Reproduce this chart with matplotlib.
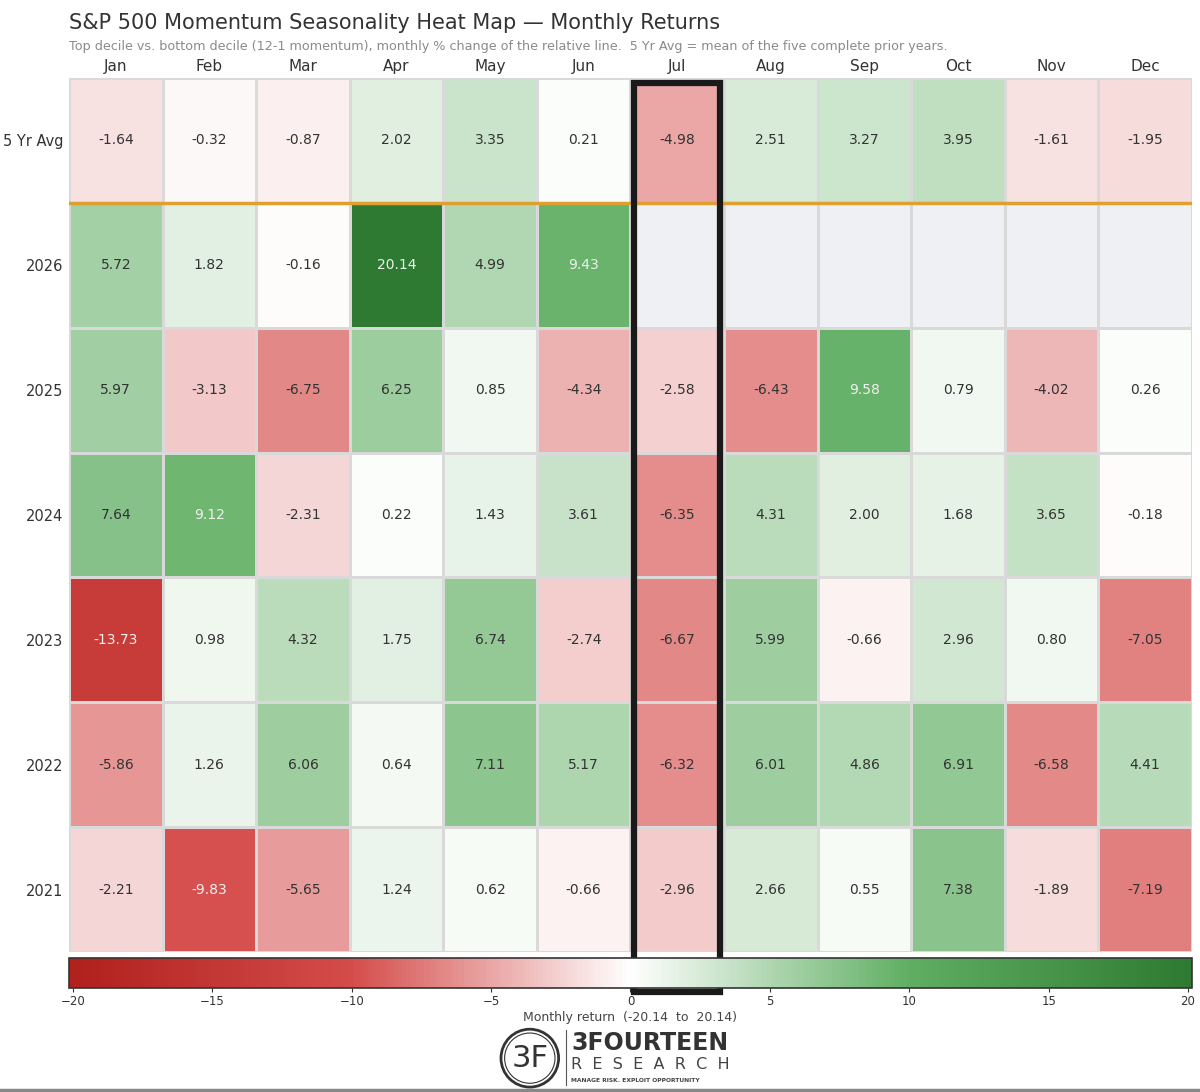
import numpy as np
import matplotlib
matplotlib.use("Agg")
import matplotlib.pyplot as plt
from matplotlib.colors import LinearSegmentedColormap, Normalize
from matplotlib.patches import Rectangle, Ellipse
from matplotlib.lines import Line2D

months = ["Jan", "Feb", "Mar", "Apr", "May", "Jun",
          "Jul", "Aug", "Sep", "Oct", "Nov", "Dec"]
rows = ["5 Yr Avg", "2026", "2025", "2024", "2023", "2022", "2021"]

avg5 = [-1.64, -0.32, -0.87, 2.02, 3.35, 0.21, -4.98, 2.51, 3.27, 3.95, -1.61, -1.95]
y2026 = [5.72, 1.82, -0.16, 20.14, 4.99, 9.43] + [np.nan] * 6
y2025 = [5.97, -3.13, -6.75, 6.25, 0.85, -4.34, -2.58, -6.43, 9.58, 0.79, -4.02, 0.26]
y2024 = [7.64, 9.12, -2.31, 0.22, 1.43, 3.61, -6.35, 4.31, 2.00, 1.68, 3.65, -0.18]
y2023 = [-13.73, 0.98, 4.32, 1.75, 6.74, -2.74, -6.67, 5.99, -0.66, 2.96, 0.80, -7.05]
y2022 = [-5.86, 1.26, 6.06, 0.64, 7.11, 5.17, -6.32, 6.01, 4.86, 6.91, -6.58, 4.41]
y2021 = [-2.21, -9.83, -5.65, 1.24, 0.62, -0.66, -2.96, 2.66, 0.55, 7.38, -1.89, -7.19]

data = np.array([avg5, y2026, y2025, y2024, y2023, y2022, y2021], dtype=float)
vlim = np.nanmax(np.abs(data))

cmap = LinearSegmentedColormap.from_list(
    "rg", [(0.0, "#b0201c"), (0.25, "#d44c4a"), (0.5, "#ffffff"),
           (0.75, "#5fae62"), (1.0, "#2e7a32")])
cmap.set_bad("#eef0f3")
norm = Normalize(-vlim, vlim)

fig = plt.figure(figsize=(12, 10.92), dpi=100)
ax = fig.add_axes([0.0575, 0.1282, 0.9358, 0.8004])

mesh = ax.pcolormesh(np.ma.masked_invalid(data), cmap=cmap, norm=norm,
                     edgecolors="#d9d9d9", linewidth=1.0)
ax.set_xlim(0, 12)
ax.set_ylim(7, 0)
for s in ax.spines.values():
    s.set_visible(False)

ax.xaxis.tick_top()
ax.set_xticks(np.arange(12) + 0.5)
ax.set_xticklabels(months, fontsize=11, color="#333333")
ax.set_yticks(np.arange(7) + 0.5)
ax.set_yticklabels(rows, fontsize=10.5, color="#333333")
ax.tick_params(axis="x", length=0, pad=3)
ax.tick_params(axis="y", length=0, pad=4)

for i in range(data.shape[0]):
    for j in range(data.shape[1]):
        v = data[i, j]
        if np.isnan(v):
            continue
        col = "#f0f0ee" if abs(v) > 8 else "#333333"
        ax.text(j + 0.5, i + 0.5, f"{v:.2f}", ha="center", va="center",
                fontsize=10, color=col)

# separator under the average row
ax.axhline(1, color="#e0a030", lw=2.5)

# highlight box around July
jul = months.index("Jul")
ax.add_patch(Rectangle((jul + 0.04, 0.04), 0.92, 7.28, fill=False,
                       ec="#1a1a1a", lw=4.5, clip_on=False, zorder=10))

cax = fig.add_axes([0.0575, 0.0952, 0.9358, 0.0275])
cb = fig.colorbar(mesh, cax=cax, orientation="horizontal",
                  ticks=[-20, -15, -10, -5, 0, 5, 10, 15, 20])
cb.outline.set_edgecolor("#333333")
cb.outline.set_linewidth(1.2)
cax.tick_params(labelsize=8.5, colors="#333333", length=3, pad=2)
cb.set_label(f"Monthly return  ({-vlim:.2f}  to  {vlim:.2f})",
             fontsize=9, color="#444444", labelpad=2)

fig.text(0.0575, 0.988, "S&P 500 Momentum Seasonality Heat Map \u2014 Monthly Returns",
         fontsize=15, color="#333333", va="top")
fig.text(0.0575, 0.9635,
         "Top decile vs. bottom decile (12-1 momentum), monthly % change of the relative line.  "
         "5 Yr Avg = mean of the five complete prior years.",
         fontsize=9.2, color="#8a8a8a", va="top")

# logo
fig.add_artist(Ellipse((0.4415, 0.031), 0.048, 0.053, transform=fig.transFigure,
                       fill=False, ec="#333333", lw=2))
fig.add_artist(Ellipse((0.4415, 0.031), 0.042, 0.046, transform=fig.transFigure,
                       fill=False, ec="#333333", lw=0.8))
fig.text(0.4415, 0.031, "3F", fontsize=22, ha="center", va="center",
         color="#333333")
fig.add_artist(Line2D([0.4715, 0.4715], [0.006, 0.057], transform=fig.transFigure,
                      color="#555555", lw=0.8))
fig.text(0.476, 0.045, "3FOURTEEN", fontsize=17, fontweight="bold",
         color="#333333", va="center")
fig.text(0.476, 0.0255, "R  E  S  E  A  R  C  H", fontsize=11.5,
         color="#444444", va="center")
fig.text(0.476, 0.0105, "MANAGE RISK. EXPLOIT OPPORTUNITY", fontsize=4.3,
         fontweight="bold", color="#444444", va="center")

fig.add_artist(Line2D([0, 1], [0.002, 0.002], transform=fig.transFigure,
                      color="#888888", lw=2.5))

fig.savefig("out.png", dpi=100, facecolor="white")
